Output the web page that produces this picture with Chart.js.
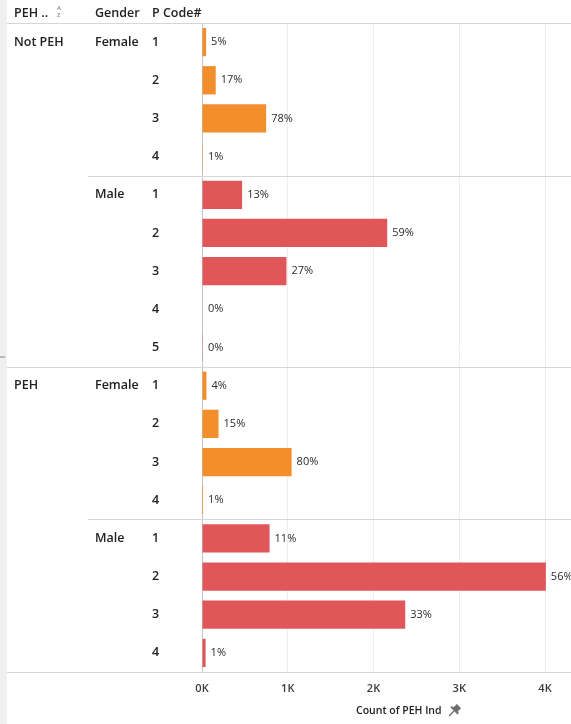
<!DOCTYPE html>
<html>
<head>
<meta charset="utf-8">
<script src="https://cdn.jsdelivr.net/npm/chart.js@4"></script>
<style>
  body { margin: 0; background: #fff; }
  #wrap { position: relative; width: 571px; height: 724px; overflow: hidden; }
</style>
</head>
<body>
<div id="wrap"><canvas id="pehChart" width="571" height="724"></canvas></div>
<script>
// one row per bar, top to bottom
const pehStatus = ['Not PEH', 'Not PEH', 'Not PEH', 'Not PEH', 'Not PEH', 'Not PEH', 'Not PEH', 'Not PEH', 'Not PEH',
                   'PEH', 'PEH', 'PEH', 'PEH', 'PEH', 'PEH', 'PEH', 'PEH'];
const genders = ['Female', 'Female', 'Female', 'Female', 'Male', 'Male', 'Male', 'Male', 'Male',
                 'Female', 'Female', 'Female', 'Female', 'Male', 'Male', 'Male', 'Male'];
const pCodes = ['1', '2', '3', '4', '1', '2', '3', '4', '5', '1', '2', '3', '4', '1', '2', '3', '4'];
const counts = [48, 160, 748, 10, 468, 2160, 985, 6, 3, 52, 193, 1045, 13, 788, 4010, 2370, 42];
const pctLabels = ['5%', '17%', '78%', '1%', '13%', '59%', '27%', '0%', '0%',
                   '4%', '15%', '80%', '1%', '11%', '56%', '33%', '1%'];
const xTicks = [0, 1000, 2000, 3000, 4000];
const headers = ['PEH ..', 'Gender', 'P Code#'];
const axisTitle = 'Count of PEH Ind';

const ORANGE = '#f28e2b';
const RED = '#e15759';
const FONT = '"Open Sans", sans-serif';
const TEXT = '#222222';

const rowLabelsPlugin = {
  id: 'rowLabels',
  beforeDraw(chart) {
    const ctx = chart.ctx;
    ctx.save();
    ctx.fillStyle = '#f0f0f0';
    ctx.fillRect(0, 0, 7, chart.height);
    ctx.fillStyle = '#b8b8b8';
    ctx.fillRect(0, 356, 5, 2);
    ctx.restore();
  },
  afterDatasetsDraw(chart) {
    const ctx = chart.ctx;
    const area = chart.chartArea;
    const bars = chart.getDatasetMeta(0).data;
    ctx.save();

    // header row
    ctx.fillStyle = TEXT;
    ctx.font = '600 12.5px ' + FONT;
    ctx.textBaseline = 'middle';
    ctx.textAlign = 'left';
    ctx.fillText(headers[0], 14, 13);
    ctx.fillText(headers[1], 95, 13);
    ctx.fillText(headers[2], 152, 13);
    ctx.fillStyle = '#888';
    ctx.font = '600 6px ' + FONT;
    ctx.fillText('A', 57, 8);
    ctx.fillText('Z', 57, 15);

    ctx.strokeStyle = '#d6d6d6';
    ctx.lineWidth = 1;
    ctx.beginPath();
    ctx.moveTo(7, 23.5);
    ctx.lineTo(chart.width, 23.5);
    ctx.stroke();

    // row headers and separators
    ctx.font = '600 12.5px ' + FONT;
    ctx.fillStyle = TEXT;
    bars.forEach((bar, i) => {
      const y = bar.y;
      if (i === 0 || pehStatus[i] !== pehStatus[i - 1]) ctx.fillText(pehStatus[i], 14, y);
      if (i === 0 || genders[i] !== genders[i - 1] || pehStatus[i] !== pehStatus[i - 1]) ctx.fillText(genders[i], 95, y);
      ctx.fillText(pCodes[i], 152, y);

      if (i > 0) {
        const sepY = Math.round((bars[i - 1].y + y) / 2) + 0.5;
        let startX = null;
        if (pehStatus[i] !== pehStatus[i - 1]) startX = 7;
        else if (genders[i] !== genders[i - 1]) startX = 88;
        if (startX !== null) {
          ctx.beginPath();
          ctx.moveTo(startX, sepY);
          ctx.lineTo(chart.width, sepY);
          ctx.stroke();
        }
      }
    });
    ctx.beginPath();
    ctx.moveTo(7, Math.round(area.bottom) + 0.5);
    ctx.lineTo(chart.width, Math.round(area.bottom) + 0.5);
    ctx.stroke();

    // bar value labels
    ctx.font = '11px ' + FONT;
    ctx.fillStyle = '#2b2b2b';
    bars.forEach((bar, i) => {
      ctx.fillText(pctLabels[i], Math.max(bar.x, area.left + 1) + 5, bar.y);
    });

    // axis title with pin
    ctx.font = '600 10.5px ' + FONT;
    ctx.fillStyle = TEXT;
    ctx.fillText(axisTitle, 356, 711);
    ctx.translate(454, 711);
    ctx.rotate(Math.PI / 4);
    ctx.fillStyle = '#6e6e6e';
    ctx.fillRect(-3, -7, 6, 6);
    ctx.fillRect(-5, -2, 10, 2);
    ctx.fillRect(-0.7, 0, 1.4, 7);
    ctx.restore();
  }
};

new Chart(document.getElementById('pehChart'), {
  type: 'bar',
  data: {
    labels: pCodes.map((c, i) => pehStatus[i] + ' / ' + genders[i] + ' / ' + c),
    datasets: [{
      data: counts,
      backgroundColor: genders.map(g => g === 'Female' ? ORANGE : RED),
      borderWidth: 0,
      barPercentage: 0.74,
      categoryPercentage: 1
    }]
  },
  options: {
    indexAxis: 'y',
    responsive: false,
    animation: false,
    layout: { padding: { left: 202, top: 23, right: 0, bottom: 0 } },
    plugins: {
      legend: { display: false },
      tooltip: { enabled: false }
    },
    scales: {
      y: { display: false },
      x: {
        min: 0,
        max: 4303,
        afterBuildTicks(scale) { scale.ticks = xTicks.map(v => ({ value: v })); },
        afterFit(scale) { scale.height = 52; },
        border: { display: false },
        grid: {
          drawTicks: false,
          color: c => c.tick && c.tick.value === 0 ? '#c4c4c4' : '#eeeeee'
        },
        ticks: {
          padding: 10,
          color: '#3a3a3a',
          font: { family: FONT, size: 11, weight: '600' },
          callback: v => (v / 1000) + 'K'
        }
      }
    }
  },
  plugins: [rowLabelsPlugin]
});
</script>
</body>
</html>
